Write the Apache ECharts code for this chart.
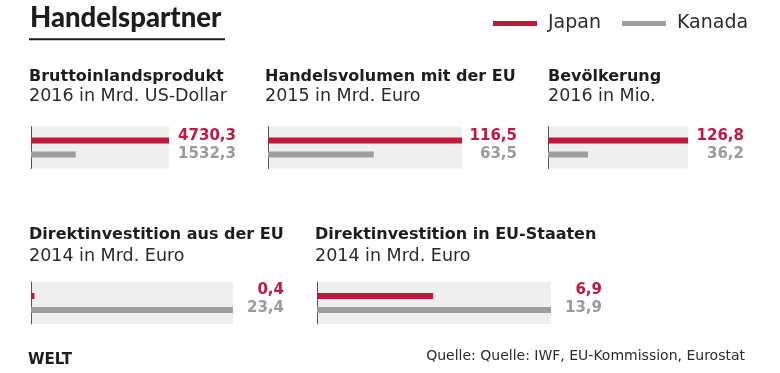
<!DOCTYPE html>
<html><head><meta charset="utf-8">
<script src="https://cdn.jsdelivr.net/npm/echarts@6/dist/echarts.min.js"></script>
<style>html,body{margin:0;padding:0;background:#fff}#c{width:780px;height:373px}</style>
</head><body><div id="c"></div>
<script>
// ---- data ----
const seriesNames = ['Japan', 'Kanada'];
const panelTitles = ['Bruttoinlandsprodukt', 'Handelsvolumen mit der EU', 'Bevölkerung', 'Direktinvestition aus der EU', 'Direktinvestition in EU-Staaten'];
const panelUnits = ['2016 in Mrd. US-Dollar', '2015 in Mrd. Euro', '2016 in Mio.', '2014 in Mrd. Euro', '2014 in Mrd. Euro'];
const japanValues = [4730.3, 116.5, 126.8, 0.4, 6.9];
const kanadaValues = [1532.3, 63.5, 36.2, 23.4, 13.9];
const chartTitle = 'Handelspartner';
const sourceText = 'Quelle: Quelle: IWF, EU-Kommission, Eurostat';
const brandText = 'WELT';

// ---- style / layout ----
const RED = '#c2183d', GRAY = '#9e9e9e', BG = '#efefef', LABEL_GRAY = '#9b9b9b', INK = '#1d1d1d', LIGHT_INK = '#2b2b2b';
const FONT = '"DejaVu Sans", sans-serif';
const GRID_H = 42;
const layout = [
  {left: 31,  top: 126.5, width: 138, labelRight: 236, titleX: 29,  titleY: 77,  subY: 96.5, dyJ: -4, dyK: 0},
  {left: 268, top: 126.5, width: 194, labelRight: 517, titleX: 265, titleY: 77,  subY: 96.5, dyJ: -4, dyK: 0},
  {left: 548, top: 126.5, width: 140, labelRight: 744, titleX: 548, titleY: 77,  subY: 96.5, dyJ: -4, dyK: 0},
  {left: 31,  top: 282,   width: 202, labelRight: 284, titleX: 29,  titleY: 234.5, subY: 256.5, dyJ: -6, dyK: -2},
  {left: 317, top: 282,   width: 234, labelRight: 602, titleX: 315, titleY: 234.5, subY: 256.5, dyJ: -6, dyK: -2}
];
const fmt = v => v.toFixed(1).replace('.', ',');

const grids = [], xAxes = [], yAxes = [], series = [], graphics = [];

layout.forEach((L, i) => {
  const maxV = Math.max(japanValues[i], kanadaValues[i]);
  grids.push({left: L.left, top: L.top, width: L.width, height: GRID_H, show: true, backgroundColor: BG, borderWidth: 0});
  xAxes.push({type: 'value', gridIndex: i, min: 0, max: maxV, show: false});
  yAxes.push({type: 'category', gridIndex: i, data: [''],
    axisLine: {show: true, lineStyle: {color: '#555', width: 1}},
    axisTick: {show: false}, axisLabel: {show: false}, splitLine: {show: false}});
  const mk = (v, color, dy) => ({
    symbol: 'rect', symbolSize: 1, silent: true, animation: false,
    itemStyle: {color: 'rgba(0,0,0,0)'},
    label: {show: true, position: 'inside', align: 'right', verticalAlign: 'middle',
      offset: [L.labelRight - (L.left + L.width), dy],
      formatter: () => fmt(v), color: color, fontFamily: FONT, fontWeight: 'bold', fontSize: 15},
    data: [{coord: [maxV, 0], value: v}]
  });
  series.push({type: 'bar', name: seriesNames[0], xAxisIndex: i, yAxisIndex: i,
    data: [japanValues[i]], barWidth: 6, barGap: '133.33%', itemStyle: {color: RED}, silent: true,
    markPoint: mk(japanValues[i], RED, L.dyJ)});
  series.push({type: 'bar', name: seriesNames[1], xAxisIndex: i, yAxisIndex: i,
    data: [kanadaValues[i]], barWidth: 6, barGap: '133.33%', itemStyle: {color: GRAY}, silent: true,
    markPoint: mk(kanadaValues[i], LABEL_GRAY, L.dyK)});

  graphics.push({type: 'text', x: L.titleX, y: L.titleY, silent: true,
    style: {text: panelTitles[i], fill: INK, font: 'bold 16px ' + FONT, textVerticalAlign: 'middle'}});
  graphics.push({type: 'text', x: L.titleX, y: L.subY, silent: true,
    style: {text: panelUnits[i], fill: LIGHT_INK, font: 'normal 17.5px ' + FONT, textVerticalAlign: 'middle'}});
});

graphics.push({type: 'text', x: 30, y: 18.5, silent: true,
  style: {text: chartTitle, fill: INK, font: '900 27.5px Lato, sans-serif', textVerticalAlign: 'middle'}});
graphics.push({type: 'rect', shape: {x: 29, y: 38.3, width: 196, height: 2}, style: {fill: INK}, silent: true});
graphics.push({type: 'text', x: 28, y: 360, silent: true,
  style: {text: brandText, fill: INK, font: 'bold 15px ' + FONT, textVerticalAlign: 'middle'}});
graphics.push({type: 'text', x: 745, y: 356, silent: true,
  style: {text: sourceText, fill: LIGHT_INK, font: 'normal 14px ' + FONT, textAlign: 'right', textVerticalAlign: 'middle'}});

const chart = echarts.init(document.getElementById('c'), null, {renderer: 'canvas'});
chart.setOption({
  animation: false,
  backgroundColor: '#fff',
  legend: {data: seriesNames, left: 493, top: 14, icon: 'rect', itemWidth: 44, itemHeight: 5, itemGap: 21,
    selectedMode: false, padding: 0,
    textStyle: {fontFamily: FONT, fontSize: 19, fontWeight: 'normal', color: LIGHT_INK, padding: [0, 0, 0, 6]}},
  grid: grids, xAxis: xAxes, yAxis: yAxes, series: series, graphic: graphics
});
</script></body></html>
